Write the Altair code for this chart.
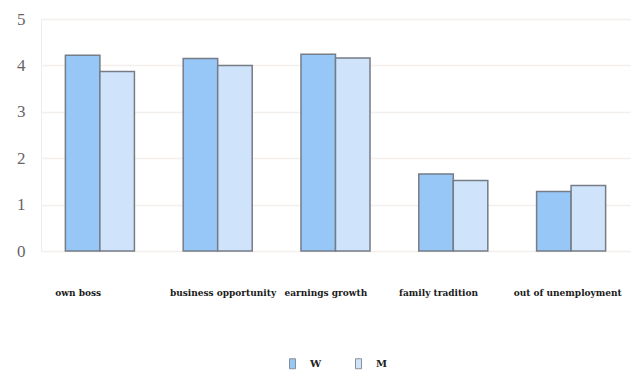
import altair as alt
import pandas as pd

# Mean rating of each motive for starting a business, by group
motives = ["own boss", "business opportunity", "earnings growth",
           "family tradition", "out of unemployment"]
groups = ["W", "M"]
w_values = [4.22, 4.15, 4.24, 1.66, 1.28]
m_values = [3.87, 4.00, 4.16, 1.52, 1.41]
y_ticks = [0, 1, 2, 3, 4, 5]

rows = []
for motive, w, m in zip(motives, w_values, m_values):
    rows.append({"motive": motive, "group": "W", "value": w})
    rows.append({"motive": motive, "group": "M", "value": m})
df = pd.DataFrame(rows)
labels_df = pd.DataFrame({"motive": motives})

fill_colors = ["#97c7f7", "#cfe4fa"]

bars = alt.Chart(df).mark_bar(
    stroke="#767c86", strokeWidth=1.5
).encode(
    x=alt.X("motive:N", sort=motives, axis=None,
            scale=alt.Scale(paddingInner=0.414, paddingOuter=0.207)),
    xOffset=alt.XOffset("group:N", sort=groups,
                        scale=alt.Scale(paddingInner=0, paddingOuter=0)),
    y=alt.Y("value:Q",
            scale=alt.Scale(domain=[0, 5], nice=False),
            axis=alt.Axis(values=y_ticks, title=None, ticks=False,
                          domain=True, domainColor="#f1ecea",
                          gridColor="#f3efec", gridWidth=1.5,
                          labelFont="Liberation Sans Narrow",
                          labelFontSize=17, labelColor="#6a6464",
                          labelPadding=16)),
    fill=alt.Fill("group:N", sort=groups,
                  scale=alt.Scale(domain=groups, range=fill_colors),
                  legend=alt.Legend(
                      title=None, orient="none", direction="horizontal",
                      legendX=246, legendY=339,
                      symbolType="M-0.6,-1H0.6V1H-0.6Z", symbolSize=100,
                      symbolStrokeColor="#8a9098", symbolStrokeWidth=1,
                      labelFont="DejaVu Serif", labelFontWeight="bold",
                      labelFontSize=10, labelColor="#222222",
                      columnPadding=31, labelOffset=12)),
)

# Category captions set on their own band scale beneath the plot
captions = alt.Chart(labels_df).mark_rect(opacity=0).encode(
    x=alt.X("motive:N", sort=motives,
            scale=alt.Scale(type="band", paddingInner=0,
                            paddingOuter=0.07, align=0),
            axis=alt.Axis(title=None, orient="bottom",
                          ticks=False, domain=False, grid=False,
                          labelAlign="left", labelBaseline="middle",
                          labelAngle=0, labelPadding=41, labelOffset=-43,
                          labelFont="DejaVu Serif",
                          labelFontWeight="bold", labelFontSize=9,
                          labelColor="#1a1a1a")),
    y=alt.value(0),
    y2=alt.value(0),
)

chart = alt.layer(bars, captions).resolve_scale(
    x="independent"
).properties(
    width=589, height=232,
    autosize=alt.AutoSizeParams(type="none"),
    padding={"left": 41, "top": 19, "right": 2, "bottom": 120},
).configure_view(stroke=None)

chart.save("out.html", embed_options={"renderer": "svg", "actions": False})
